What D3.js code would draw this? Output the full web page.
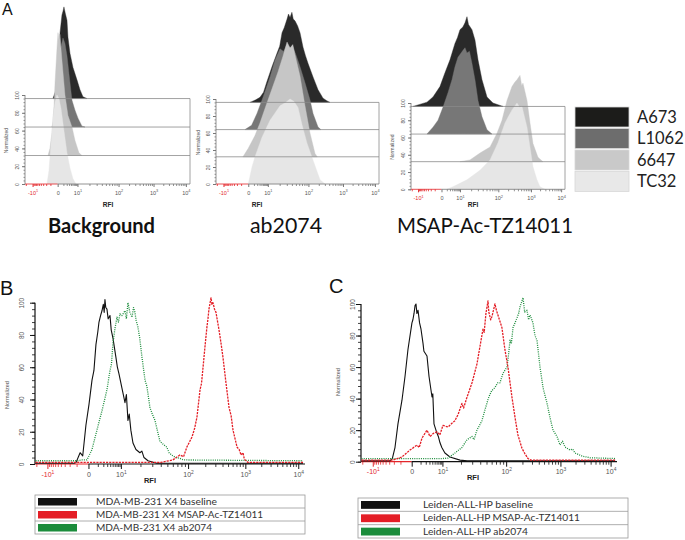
<!DOCTYPE html>
<html><head><meta charset="utf-8">
<script src="https://cdn.jsdelivr.net/npm/d3@7"></script>
<style>body{margin:0;background:#fff}svg{display:block}</style>
</head><body>
<svg id="chart" width="685" height="540"></svg>
<script>
// ---------- DATA ----------
const xTickValues = [-10, 0, 10, 100, 1000, 10000];
const xTickBase = ["-10", "0", "10", "10", "10", "10"];
const xTickExp = ["1", "", "1", "2", "3", "4"];
const yTickValues = [0, 20, 40, 60, 80, 100];
const cellLines = ["A673", "L1062", "6647", "TC32"];
const layerOffsets = [96, 64, 32, 0];
const panelATitles = ["Background", "ab2074", "MSAP-Ac-TZ14011"];

// Panel A, Background: [RFI, normalized count]
const bgA673 = [[-0.57,0],[-0.07,13],[0.04,35],[0.32,73],[0.68,94],[0.9,98],[1.14,103],[1.5,96],[2.09,88],[2.48,69],[3.43,51],[5.38,35],[9.35,21],[11.6,10],[13.8,2],[17.4,0]];
const bgL1062 = [[-0.72,0],[-0.29,12],[-0.07,40],[0.17,70],[0.49,90],[0.9,100],[1.42,94],[2.09,80],[2.93,60],[4.65,30],[7.13,19],[10.3,10],[13,1],[15.5,0]];
const bg6647 = [[-1.52,0],[-1.09,8],[-0.72,25],[-0.42,55],[-0.29,81],[-0.07,120],[0.04,138],[0.17,130],[0.32,136],[0.5,120],[0.68,107],[1.42,68],[2.48,45],[4.65,32],[7.13,17],[10.9,3],[13,0]];
const bgTC32 = [[-1.78,0],[-1.3,15],[-0.9,45],[-0.57,75],[-0.29,92],[-0.07,100],[0.17,96],[0.49,85],[1.14,60],[2.09,35],[3.43,18],[5.38,6],[8.17,0]];
// Panel A, ab2074
const abA673 = [[0.23,0],[1.5,3],[3.22,6],[5.5,12],[8.37,23],[12.8,42],[17.2,58],[20,66],[22.9,82],[26,88],[30.4,98],[33,104],[36,100],[40,106],[43,98],[47.5,96],[55,90],[62.8,82],[74.2,65],[85,55],[97.7,46],[136,30],[190,15],[265,5],[340,2],[422,0]];
const abL1062 = [[-0.38,0],[0.5,5],[1.92,19],[5.1,38],[11.4,62],[15.3,82],[20.4,95],[25,92],[30.4,100],[36,96],[42.6,97],[50,88],[62.8,74],[82.8,55],[111,35],[136,19],[190,3],[230,0]];
const ab6647 = [[-0.67,0],[0,10],[1.28,25],[3.22,40],[8.37,62],[12.8,80],[18.2,100],[24,118],[30.4,135],[36,128],[42,132],[47.5,120],[62.8,95],[82.8,60],[111,28],[155,4],[180,0]];
const abTC32 = [[0,0],[0.58,20],[1.28,32],[4.39,55],[11.4,75],[20.4,92],[28,96],[36,100],[45,97],[56.2,90],[70,70],[92.6,48],[136,28],[217,5],[303,0]];
// Panel A, MSAP-Ac-TZ14011
const msA673 = [[-17.6,0],[-3.42,5],[-1.39,11],[-0.17,23],[0.57,39],[2.01,54],[4.75,73],[7,80],[10,89],[12,92],[13.7,97],[15.5,104],[17,95],[21,89],[25.2,77],[30.2,54],[38.3,31],[51.5,11],[73.3,4],[140,0]];
const msL1062 = [[-3.42,0],[-1.39,8],[-0.43,16],[0.21,31],[1.32,48],[2.9,63],[4.75,78],[7.49,89],[12.1,97],[13.7,100],[15.5,94],[18,96],[21,82],[25.2,63],[30.2,39],[38.3,20],[51.5,5],[69,0]];
const ms6647 = [[10,0],[18.6,2],[34,10],[61.5,17],[92.6,33],[130,48],[185,71],[263,87],[320,92],[374,95],[462,100],[520,88],[570,91],[756,71],[932,45],[1165,21],[1708,5],[2496,0]];
const msTC32 = [[1,0],[3.44,3],[15.5,11],[34,22],[61.5,34],[98,54],[161,77],[263,92],[374,100],[450,95],[532,96],[756,72],[932,49],[1165,26],[1580,11],[1988,3],[2910,0]];

// Panel B: MDA-MB-231 X4
const mdaBaseline = [[-21,0.5],[-1.3,0.5],[-1.06,1],[-0.63,7],[-0.4,5],[-0.16,24],[0.04,37],[0.3,52],[0.5,58],[0.74,74],[1.0,82],[1.18,88],[1.45,92],[1.72,95],[2.0,99],[2.2,94],[2.39,102],[2.6,97],[2.93,96],[3.3,90],[3.92,92],[4.4,83],[5.13,78],[6.66,66],[7.5,60],[8.54,56],[10.4,47],[11.6,38],[12.2,43],[12.9,27],[13.5,31],[14.3,21],[15.4,13],[17.1,9],[19.6,7],[21,8],[22.6,4],[25.9,2],[35,0.5],[12300,0.5]];
const mdaMSAP = [[-21,1],[40,1],[60,2.5],[76,5.6],[86,4.5],[96,10.5],[117,16.7],[130,22],[143,29],[162,46],[172,50],[183,60],[198,73],[214,85],[223,90],[232,96],[252,103],[262,99],[273,100],[290,96],[308,94],[348,83],[380,74],[408,66],[461,50],[520,35],[565,30],[610,21],[717,10.5],[780,9],[842,5.6],[912,7],[960,3],[1031,2],[1121,1],[12300,1]];
const mdaAb2074 = [[-21,2],[-0.9,2],[-0.46,2.5],[-0.09,2.5],[0.3,9],[0.87,21],[1.72,33],[2.93,46],[3.92,58],[4.5,62],[5.13,75],[6.11,84],[7.25,91],[8.2,88],[9.29,93],[10.4,92],[11.6,95],[12.2,90],[12.9,100],[13.8,94],[14.9,91],[15.7,97],[16.5,94],[17.2,89],[18.3,85],[19.5,78],[21.1,66],[23.4,52],[25,48],[27.7,35],[30,31],[32.9,27],[36,20],[39,14],[44,12],[49,10.5],[53,7],[58,5.5],[66,4],[76,3.5],[86,2.5],[96,2.5],[12300,2]];
const legendBLabels = ["MDA-MB-231 X4 baseline", "MDA-MB-231 X4 MSAP-Ac-TZ14011", "MDA-MB-231 X4 ab2074"];

// Panel C: Leiden-ALL-HP
const leidenBaseline = [[-21,0.5],[-2.81,0.5],[-2.3,2],[-1.8,9],[-1.33,24],[-0.82,39],[-0.51,54],[-0.26,71],[0.02,88],[0.1,90],[0.2,94],[0.3,99],[0.4,100],[0.5,94],[0.64,96],[0.85,88],[1.07,84],[1.42,75],[1.6,70],[2.3,67],[2.87,54],[3.88,41],[4.2,43],[4.7,24],[5.4,21],[6.21,18],[7,16],[8.12,12],[9.5,9],[11,5.5],[13.3,3],[19.3,1],[25,0.5],[12300,0.5]];
const leidenMSAP = [[-21,1],[-2.17,1],[-0.82,3],[-0.11,7.4],[0.51,10.5],[0.8,9],[1.24,15],[2.3,20],[3.18,16],[4.5,18],[6.21,19],[8,17],[10.2,23],[12.4,22],[14,24],[16,26],[18,30],[20.7,37],[22,34],[24.9,41],[29.8,50],[35.6,62],[39.6,73],[44.1,84],[46,82],[49,94],[52.7,102],[54.2,95],[58,90],[60.6,92],[67.4,100],[71,96],[74.9,93],[86.2,85],[95.8,71],[108,60],[128,41],[146,28],[165,17],[196,8.5],[223,5],[253,2],[288,1],[12300,1]];
const leidenAb2074 = [[-21,2],[10,2],[12.4,2.3],[16,5.5],[20.7,9],[24.9,14],[29.8,16],[32,14],[35.6,20],[42.5,26],[47.4,33],[54.2,41],[60,45],[67.4,47],[74,50],[80.4,50],[89.3,56],[103.5,60],[110,67],[118,77],[125,75],[134,85],[158,91],[170,94],[180,98],[205,104],[220,95],[243,96],[260,90],[276,93],[313,88],[340,80],[371,77],[421,60],[479,47],[567,37],[644,28],[731,20],[866,16],[984,10.6],[1100,13],[1236,9.3],[1555,7.4],[1750,8],[1956,5.5],[2694,3.6],[3890,2.5],[12300,2]];
const legendCLabels = ["Leiden-ALL-HP baseline", "Leiden-ALL-HP MSAP-Ac-TZ14011", "Leiden-ALL-HP ab2074"];

// ---------- STYLE / LAYOUT ----------
const fillColors = ["#2a2a2a", "#777777", "#c6c6c6", "#e6e6e6"];
const swatchColors = ["#1c1c1a", "#6d6d6d", "#c9c9c9", "#e8e8e8"];
const lineColors = ["#111111", "#e41e26", "#1b8c3b"];
const RED = "#e3262b";
const tickFrac = [0.046, 0.198, 0.318, 0.567, 0.779, 0.975];
const svg = d3.select("#chart");

function makeX(x0, x1) {
  return d3.scaleSymlog().constant(1).domain(xTickValues)
    .range(tickFrac.map(f => x0 + f * (x1 - x0)));
}
const minorX = [];
[-20,-9,-8,-7,-6,-5,-4,-3,-2,-1,1,2,3,4,5,6,7,8,9].forEach(v => minorX.push(v));
[10,100,1000].forEach(b => { for (let k = 2; k <= 9; k++) minorX.push(b * k); });

function drawAxes(g, x, y, o) {
  const yb = y(0);
  g.append("line").attr("x1", o.x0).attr("x2", x(0)).attr("y1", yb).attr("y2", yb)
    .attr("stroke", RED).attr("stroke-width", o.lw);
  g.append("line").attr("x1", x(0)).attr("x2", o.x1).attr("y1", yb).attr("y2", yb)
    .attr("stroke", o.col).attr("stroke-width", o.lw);
  const mg = g.append("g").attr("transform", `translate(0,${yb})`)
    .call(d3.axisBottom(x).tickValues(minorX).tickSize(o.minLen).tickFormat(""));
  mg.select(".domain").remove();
  mg.selectAll(".tick line").attr("stroke", d => d < 0 ? RED : o.col).attr("stroke-width", 0.8);
  const Mg = g.append("g").attr("transform", `translate(0,${yb})`)
    .call(d3.axisBottom(x).tickValues(xTickValues).tickSize(o.majLen).tickFormat(""));
  Mg.select(".domain").remove();
  Mg.selectAll(".tick line").attr("stroke", d => d < 0 ? RED : o.col).attr("stroke-width", 1);
  Mg.selectAll(".tick").each(function(d, i) {
    const t = d3.select(this).append("text").attr("x", 0).attr("y", o.labDy)
      .attr("text-anchor", "middle").attr("font-family", "Liberation Sans, Arial, sans-serif")
      .attr("font-size", o.fs).attr("fill", d < 0 ? RED : "#555");
    t.append("tspan").text(xTickBase[i]);
    if (xTickExp[i]) t.append("tspan").attr("dy", -o.fs * 0.4).attr("font-size", o.fs * 0.7).text(xTickExp[i]);
  });
  g.append("line").attr("x1", o.x0).attr("x2", o.x0).attr("y1", y(0)).attr("y2", y(100))
    .attr("stroke", o.col).attr("stroke-width", o.lw);
  const ym = g.append("g").attr("transform", `translate(${o.x0},0)`)
    .call(d3.axisLeft(y).tickValues(d3.range(0, 101, 4)).tickSize(o.yMin).tickFormat(""));
  ym.select(".domain").remove();
  ym.selectAll(".tick line").attr("stroke", o.col).attr("stroke-width", 0.8);
  const yM = g.append("g").attr("transform", `translate(${o.x0},0)`)
    .call(d3.axisLeft(y).tickValues(yTickValues).tickSize(o.yMaj).tickFormat(d => d));
  yM.select(".domain").remove();
  yM.selectAll(".tick line").attr("stroke", o.col).attr("stroke-width", 1);
  yM.selectAll(".tick text").attr("x", null).attr("dy", null).attr("y", null)
    .attr("transform", `translate(${-o.yLab},0) rotate(-90)`).attr("text-anchor", "middle")
    .attr("dominant-baseline", "central")
    .attr("font-family", "Liberation Sans, Arial, sans-serif").attr("font-size", o.yfs).attr("fill", "#555");
  g.append("text").attr("transform", `translate(${o.normX},${o.normY}) rotate(-90)`)
    .attr("text-anchor", "middle").attr("dominant-baseline", "central")
    .attr("font-family", "Liberation Sans, Arial, sans-serif").attr("font-size", o.nfs)
    .attr("fill", "#555").text("Normalized");
  g.append("text").attr("x", o.rfiX).attr("y", o.rfiY).attr("text-anchor", "middle")
    .attr("font-family", "Liberation Sans, Arial, sans-serif").attr("font-weight", "bold")
    .attr("font-size", o.rfs).attr("fill", "#222").text("RFI");
}

// ---------- PANEL A ----------
const panelsA = [
  {x0: 25, x1: 190, yb: 184, yt: 95, series: [bgA673, bgL1062, bg6647, bgTC32],
   tx: 48, tw: 107, bold: true, rfiX: 108, normX: 6},
  {x0: 216, x1: 379, yb: 184, yt: 99, series: [abA673, abL1062, ab6647, abTC32],
   tx: 250, tw: 72, bold: false, rfiX: 257, normX: 198},
  {x0: 411, x1: 565, yb: 189.3, yt: 103, series: [msA673, msL1062, ms6647, msTC32],
   tx: 397, tw: 176, bold: false, rfiX: 473, normX: 392}
];
panelsA.forEach((p, i) => {
  const x = makeX(p.x0, p.x1);
  const y = d3.scaleLinear().domain([0, 100]).range([p.yb, p.yt]);
  const g = svg.append("g");
  p.series.forEach((s, k) => {
    const off = layerOffsets[k];
    g.append("path").datum(s)
      .attr("d", d3.area().x(d => x(d[0])).y0(y(off)).y1(d => y(off + d[1])))
      .attr("fill", fillColors[k]).attr("stroke", fillColors[k]).attr("stroke-width", 0.4);
  });
  layerOffsets.slice(0, 3).forEach(off => {
    g.append("line").attr("x1", p.x0).attr("x2", p.x1).attr("y1", y(off)).attr("y2", y(off))
      .attr("stroke", "#8a8a8a").attr("stroke-width", 0.8);
  });
  g.append("line").attr("x1", p.x1).attr("x2", p.x1).attr("y1", y(96)).attr("y2", y(0))
    .attr("stroke", "#8a8a8a").attr("stroke-width", 0.8);
  drawAxes(g, x, y, {x0: p.x0, x1: p.x1, col: "#777", lw: 0.8, minLen: 2, majLen: 3,
    labDy: 10.5, fs: 5.5, yMin: 1.5, yMaj: 3, yLab: 8, yfs: 5, normX: p.normX,
    normY: y(50) + 1, nfs: 5, rfiX: p.rfiX, rfiY: 207, rfs: 6.5});
  svg.append("text").attr("x", p.tx).attr("y", 233)
    .attr("font-family", "Lato, 'Open Sans', sans-serif").attr("font-size", 21)
    .attr("font-weight", p.bold ? "bold" : "normal").attr("fill", "#111")
    .attr("textLength", p.tw).attr("lengthAdjust", "spacingAndGlyphs").text(panelATitles[i]);
});

const legAy = [107, 128.5, 150, 171.5];
cellLines.forEach((c, k) => {
  svg.append("rect").attr("x", 575).attr("y", legAy[k]).attr("width", 54).attr("height", 20)
    .attr("fill", swatchColors[k]).attr("stroke", "#d8d8d8").attr("stroke-width", 0.8);
  svg.append("text").attr("x", 637).attr("y", legAy[k] + 15.5)
    .attr("font-family", "Lato, 'Open Sans', sans-serif").attr("font-size", 16.5).attr("fill", "#222").text(c);
});

// ---------- PANELS B and C ----------
const panelsBC = [
  {x0: 35, x1: 305, yb: 464, yt: 302.7, series: [mdaBaseline, mdaAb2074, mdaMSAP],
   yLab: 14, normX: 7, normY: 395, rfiX: 150, rfiY: 483, letter: "B", lx: 0, ly: 295,
   leg: {x0: 35, x1: 305, y0: 495, y1: 534, sx: 38, sw: 39, tx: 96, labels: legendBLabels, tw: [121, 167, 116]}},
  {x0: 361, x1: 617, yb: 461.7, yt: 304, series: [leidenBaseline, leidenAb2074, leidenMSAP],
   yLab: 9, normX: 338, normY: 382, rfiX: 473, rfiY: 480, letter: "C", lx: 329, ly: 293,
   leg: {x0: 358, x1: 628, y0: 498, y1: 538, sx: 361, sw: 39, tx: 423, labels: legendCLabels, tw: [110, 157, 105]}}
];
panelsBC.forEach(p => {
  const x = makeX(p.x0, p.x1);
  const y = d3.scaleLinear().domain([0, 100]).range([p.yb, p.yt]);
  const g = svg.append("g");
  drawAxes(g, x, y, {x0: p.x0, x1: p.x1, col: "#111", lw: 1.2, minLen: 3, majLen: 5,
    labDy: 12.5, fs: 7, yMin: 3, yMaj: 5, yLab: p.yLab, yfs: 6.5, normX: p.normX,
    normY: p.normY, nfs: 5.5, rfiX: p.rfiX, rfiY: p.rfiY, rfs: 7.5});
  const line = d3.line().x(d => x(d[0])).y(d => y(d[1]));
  const cols = [lineColors[0], lineColors[2], lineColors[1]];
  const dsh = ["none", "1,1.2", "2.2,1"];
  p.series.forEach((s, k) => {
    g.append("path").datum(s).attr("d", line).attr("fill", "none")
      .attr("stroke", cols[k]).attr("stroke-width", k === 0 ? 1.1 : 1.3)
      .attr("stroke-dasharray", dsh[k]).attr("stroke-linejoin", "round");
  });
  svg.append("text").attr("x", p.lx).attr("y", p.ly).attr("font-family", "Liberation Sans, Arial, sans-serif")
    .attr("font-size", 20).attr("fill", "#111").text(p.letter);
  const L = p.leg, rh = (L.y1 - L.y0) / 3;
  svg.append("rect").attr("x", L.x0).attr("y", L.y0).attr("width", L.x1 - L.x0).attr("height", L.y1 - L.y0)
    .attr("fill", "none").attr("stroke", "#9a9a9a").attr("stroke-width", 0.8);
  [1, 2].forEach(r => svg.append("line").attr("x1", L.x0).attr("x2", L.x1)
    .attr("y1", L.y0 + r * rh).attr("y2", L.y0 + r * rh).attr("stroke", "#9a9a9a").attr("stroke-width", 0.8));
  L.labels.forEach((t, r) => {
    svg.append("rect").attr("x", L.sx).attr("y", L.y0 + r * rh + 3).attr("width", L.sw).attr("height", rh - 5.5)
      .attr("fill", lineColors[r]);
    svg.append("text").attr("x", L.tx).attr("y", L.y0 + r * rh + rh - 3.5)
      .attr("font-family", "Lato, 'Open Sans', sans-serif").attr("font-size", 9).attr("fill", "#333")
      .attr("textLength", L.tw[r]).attr("lengthAdjust", "spacingAndGlyphs").text(t);
  });
});

svg.append("text").attr("x", 2).attr("y", 15).attr("font-family", "Liberation Sans, Arial, sans-serif")
  .attr("font-size", 16).attr("fill", "#111").text("A");
</script>
</body></html>
